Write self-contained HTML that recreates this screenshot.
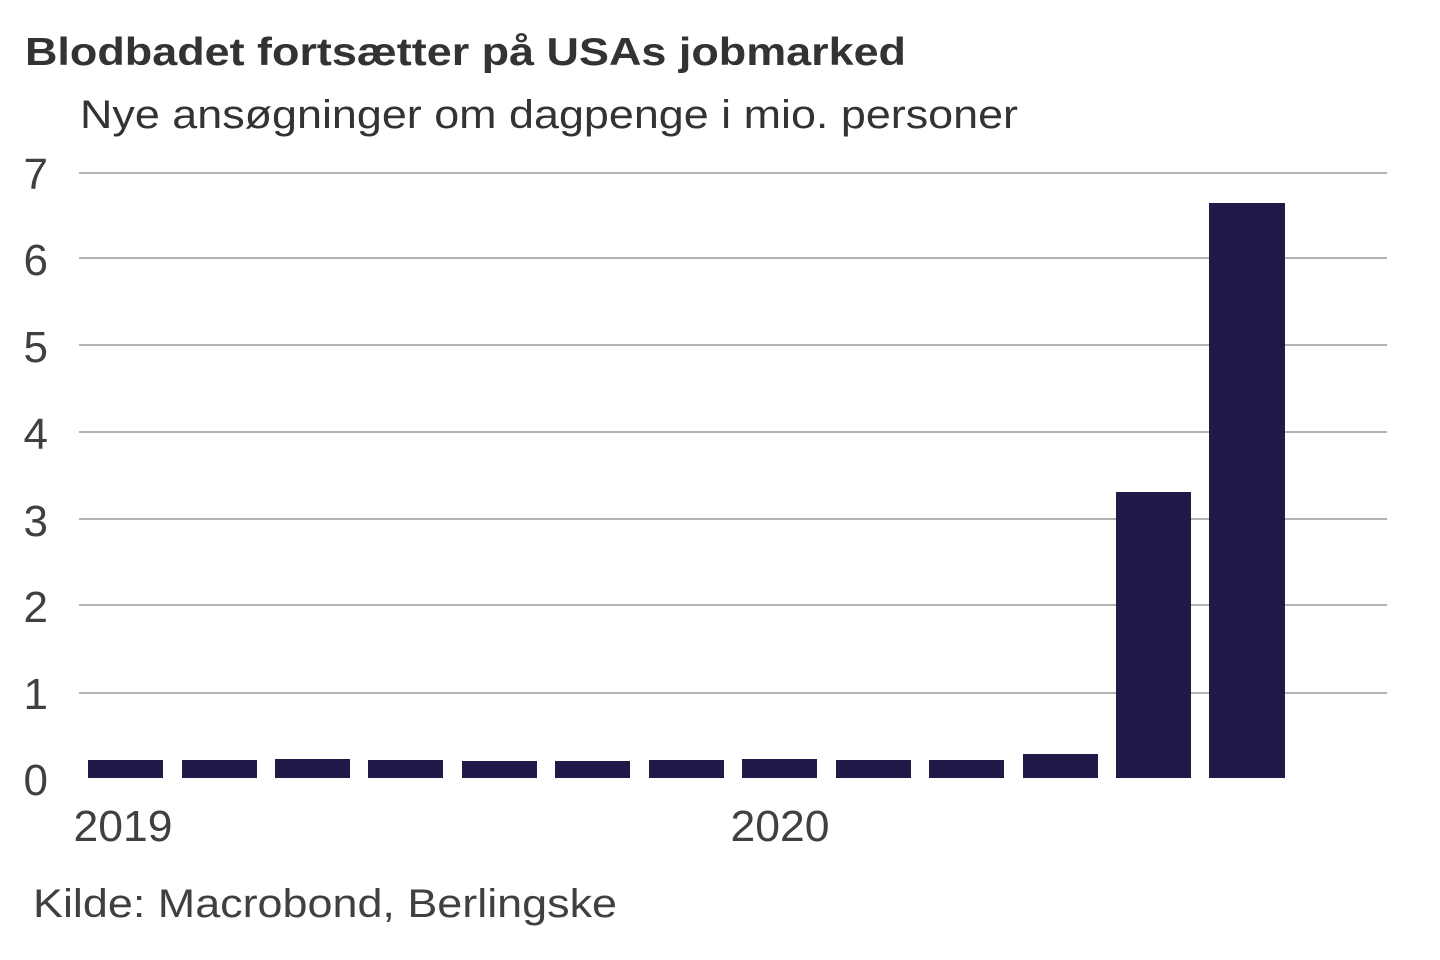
<!DOCTYPE html>
<html><head><meta charset="utf-8"><style>html,body{margin:0;padding:0;background:#fff}svg{display:block}</style></head>
<body>
<svg width="1440" height="960" xmlns="http://www.w3.org/2000/svg" font-family="Liberation Sans, Arial, sans-serif" fill="#333">
<text x="25" y="65" font-size="39" font-weight="bold" textLength="881" lengthAdjust="spacingAndGlyphs">Blodbadet fortsætter på USAs jobmarked</text>
<text x="80" y="128" font-size="40" textLength="938" lengthAdjust="spacingAndGlyphs">Nye ansøgninger om dagpenge i mio. personer</text>
<g stroke="#999" stroke-width="1.5">
<line x1="79" x2="1387" y1="173" y2="173"/>
<line x1="79" x2="1387" y1="258" y2="258"/>
<line x1="79" x2="1387" y1="345" y2="345"/>
<line x1="79" x2="1387" y1="432" y2="432"/>
<line x1="79" x2="1387" y1="519" y2="519"/>
<line x1="79" x2="1387" y1="605" y2="605"/>
<line x1="79" x2="1387" y1="693" y2="693"/>
</g>
<g font-size="44" text-anchor="end" fill="#404040">
<text x="48" y="189">7</text>
<text x="48" y="275">6</text>
<text x="48" y="362">5</text>
<text x="48" y="449">4</text>
<text x="48" y="536">3</text>
<text x="48" y="622">2</text>
<text x="48" y="709">1</text>
<text x="48" y="795">0</text>
</g>
<g fill="#1f1a48">
<rect x="88" y="760" width="75" height="18"/>
<rect x="182" y="760" width="75" height="18"/>
<rect x="275" y="759" width="75" height="19"/>
<rect x="368" y="760" width="75" height="18"/>
<rect x="462" y="761" width="75" height="17"/>
<rect x="555" y="761" width="75" height="17"/>
<rect x="649" y="760" width="75" height="18"/>
<rect x="742" y="759" width="75" height="19"/>
<rect x="836" y="760" width="75" height="18"/>
<rect x="929" y="760" width="75" height="18"/>
<rect x="1023" y="754" width="75" height="24"/>
<rect x="1116" y="492" width="75" height="286"/>
<rect x="1209" y="203" width="76" height="575"/>
</g>
<g font-size="44" text-anchor="middle" fill="#404040">
<text x="123" y="841" textLength="99" lengthAdjust="spacingAndGlyphs">2019</text>
<text x="780" y="841" textLength="99" lengthAdjust="spacingAndGlyphs">2020</text>
</g>
<text x="33" y="917" font-size="40" fill="#404040" textLength="584" lengthAdjust="spacingAndGlyphs">Kilde: Macrobond, Berlingske</text>
</svg>
</body></html>
